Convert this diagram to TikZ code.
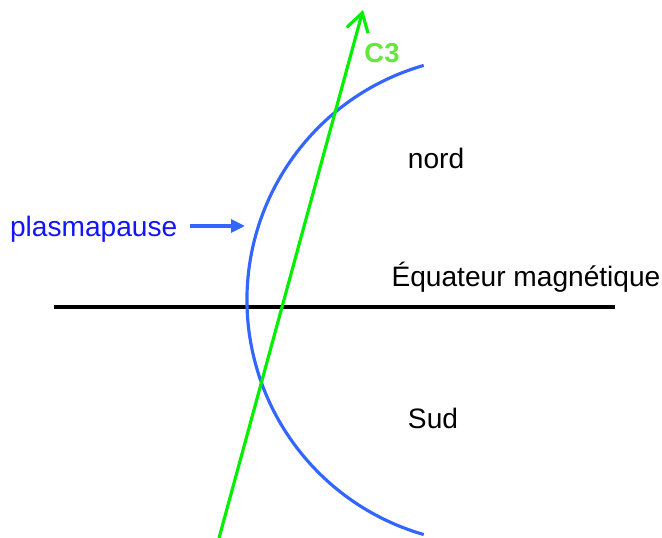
\documentclass[tikz,border=0pt]{standalone}
\usepackage{fontspec}
\setmainfont{Liberation Sans}
\usetikzlibrary{positioning,arrows.meta}
\definecolor{ppblue}{RGB}{51,102,255}
\definecolor{txtblue}{RGB}{20,20,255}
\definecolor{cgreen}{RGB}{0,240,0}
\definecolor{lblgreen}{RGB}{100,230,60}

\begin{document}
\begin{tikzpicture}[every node/.style={font=\fontsize{8}{9.5}\selectfont}]
      \useasboundingbox (0,0) rectangle (6.62,5.38);
      % equateur
      \draw[black,line width=0.9pt] (0.54,2.31) -- (6.15,2.31);
      % plasmapause
      \draw[ppblue,line width=0.9pt] (4.91,2.38) ++(106:2.44) arc (106:254:2.44);
      % trajectoire C3
      \coordinate (c3bas) at (2.19,0.00);
      \coordinate (c3haut) at (3.63,5.28);
      \draw[cgreen,line width=0.9pt,-{Straight Barb[length=0.18cm,width=0.22cm,line width=0.9pt]}] (c3bas) -- (c3haut);
      \node[lblgreen,font=\fontsize{7.8}{9}\selectfont\bfseries] (c3) at (3.82,4.85) {C3};
      % labels
      \node (nord) at (4.36,3.80) {nord};
      \node (sud) at (4.33,1.20) {Sud};
      \node (equ) at (5.26,2.61) {Équateur magnétique};
      \node[txtblue,anchor=east,inner sep=0pt] (ppl) at (1.78,3.09) {plasmapause};
      \coordinate (pp) at (2.45,3.12);
      \draw[ppblue,line width=0.9pt,-{Triangle[length=0.14cm,width=0.13cm]}] ([xshift=1.2mm]ppl.east |- pp) -- (pp);
    \end{tikzpicture}
\end{document}
